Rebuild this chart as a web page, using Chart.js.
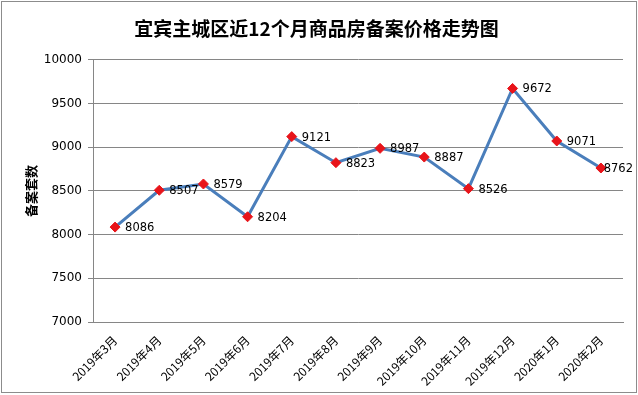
<!DOCTYPE html>
<html>
<head>
<meta charset="utf-8">
<script src="https://cdn.jsdelivr.net/npm/chart.js@4"></script>
<style>
  body { margin: 0; background: #fff; }
  #wrap { width: 638px; height: 395px; }
</style>
</head>
<body>
<div id="wrap"><canvas id="myChart" width="638" height="395"></canvas></div>
<script>
// data
const months = ['2019年3月', '2019年4月', '2019年5月', '2019年6月', '2019年7月', '2019年8月',
  '2019年9月', '2019年10月', '2019年11月', '2019年12月', '2020年1月', '2020年2月'];
const prices = [8086, 8507, 8579, 8204, 9121, 8823, 8987, 8887, 8526, 9672, 9071, 8762];
const yTicks = [7000, 7500, 8000, 8500, 9000, 9500, 10000];

const fontFamily = '"DejaVu Sans", "Noto Sans CJK SC", sans-serif';
const cjkFont = '"Noto Sans CJK SC", sans-serif';

// border + point labels
const extras = {
  id: 'extras',
  beforeDraw(chart) {
    const c = chart.ctx;
    c.save();
    c.fillStyle = '#fff';
    c.fillRect(0, 0, chart.width, chart.height);
    c.strokeStyle = '#8c8c8c';
    c.lineWidth = 1;
    c.strokeRect(1.5, 1.5, chart.width - 3, chart.height - 4);
    c.restore();
  },
  afterDatasetsDraw(chart) {
    const c = chart.ctx;
    const meta = chart.getDatasetMeta(0);
    c.save();
    c.font = '11.5px ' + fontFamily;
    c.fillStyle = '#000';
    c.textBaseline = 'middle';
    c.textAlign = 'left';
    meta.data.forEach((pt, i) => {
      const txt = String(prices[i]);
      const w = c.measureText(txt).width;
      const x = Math.min(pt.x + 10, chart.width - 5 - w);
      c.fillText(txt, x, pt.y + 1);
    });
    c.restore();
  }
};

var ctx = document.getElementById('myChart').getContext('2d');
var myChart = new Chart(ctx, {
  type: 'line',
  data: {
    labels: months,
    datasets: [{
      label: '备案价格',
      data: prices,
      borderColor: '#4a7ebb',
      borderWidth: 3,
      tension: 0,
      pointStyle: 'rectRot',
      pointRadius: 5,
      pointHoverRadius: 5,
      pointBackgroundColor: '#e8141a',
      pointBorderColor: '#e8141a',
      pointBorderWidth: 1,
    }]
  },
  plugins: [extras],
  options: {
    responsive: false,
    animation: false,
    events: [],
    layout: { padding: { left: 10, right: 15, top: 10, bottom: 5 } },
    plugins: {
      legend: { display: false },
      tooltip: { enabled: false },
      title: {
        display: true,
        text: '宜宾主城区近12个月商品房备案价格走势图',
        color: '#000',
        font: { family: cjkFont, size: 19, weight: 'bold' },
        padding: { top: 7, bottom: 20 }
      }
    },
    scales: {
      x: {
        offset: true,
        grid: { display: false, offset: true },
        border: { display: true, color: '#868686', width: 1 },
        ticks: {
          color: '#000',
          font: { family: cjkFont, size: 12 },
          minRotation: 45,
          maxRotation: 45,
          padding: 3
        },
        afterFit(scale) { scale.height = 68; }
      },
      y: {
        min: 7000,
        max: 10000,
        afterBuildTicks(scale) { scale.ticks = yTicks.map(v => ({ value: v })); },
        grid: { color: '#868686', tickLength: 5, drawTicks: true },
        border: { display: true, color: '#868686', width: 1 },
        ticks: {
          color: '#000',
          font: { family: fontFamily, size: 12 },
          padding: 6,
          callback: v => String(v)
        },
        title: {
          display: true,
          text: '备案套数',
          color: '#000',
          font: { family: cjkFont, size: 13, weight: 'bold' },
          padding: { top: 13, bottom: 6 }
        },
        afterFit(scale) { scale.width = 83; }
      }
    }
  }
});
</script>
</body>
</html>
